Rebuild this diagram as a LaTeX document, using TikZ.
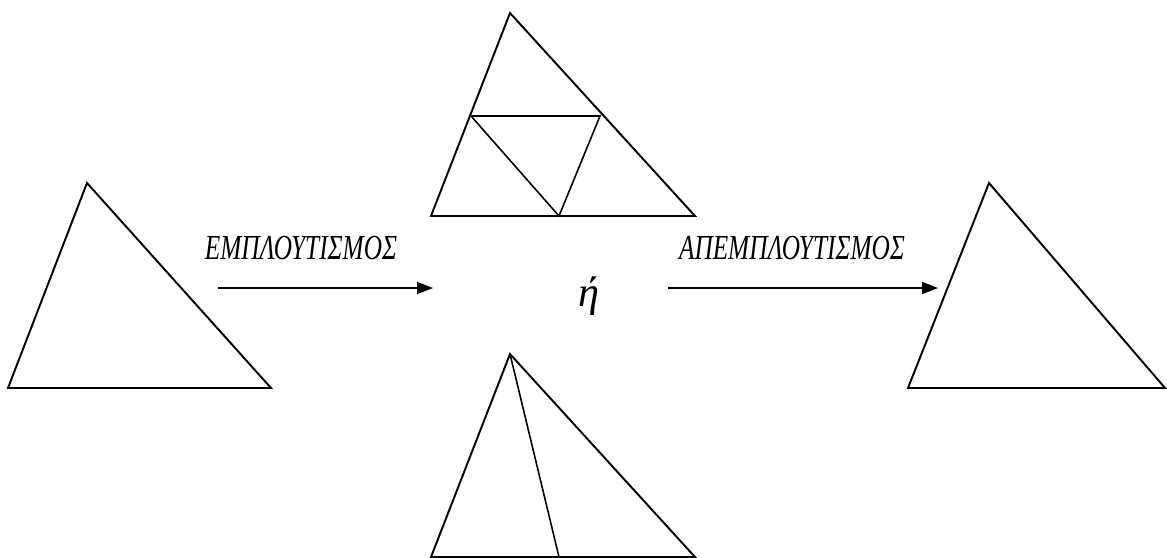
\documentclass[tikz,border=0pt]{standalone}
\usepackage{fontspec}
\setmainfont{Liberation Serif}
\newfontfamily\grk[Script=Greek]{Liberation Serif}
\usepackage{graphicx}
\usetikzlibrary{arrows.meta, positioning}

\begin{document}
\begin{tikzpicture}[x=0.02cm, y=-0.02cm,
    tri/.style={line width=1.1pt, line join=miter},
    cut/.style={line width=0.9pt},
    arrow/.style={-{Triangle[length=3.2mm, width=2.4mm]}, line width=0.9pt},
    lbl/.style={font=\grk\fontsize{20}{20}\selectfont\itshape, inner sep=0pt},
]
\useasboundingbox (0,0) rectangle (1167,558);

% left triangle
\coordinate (la) at (87,183);
\coordinate (lb) at (8,388);
\coordinate (lc) at (271,388);
\draw[tri] (la) -- (lb) -- (lc) -- cycle;

% top middle triangle with inner triangle
\coordinate (ta) at (510,13);
\coordinate (tb) at (431,216);
\coordinate (tc) at (695,216);
\coordinate (tp) at (471,116);
\coordinate (tq) at (600,116);
\coordinate (tr) at (559,216);
\draw[tri] (ta) -- (tb) -- (tc) -- cycle;
\draw[cut] (tp) -- (tq) -- (tr) -- cycle;

% bottom middle triangle with one cut
\coordinate (ba) at (510,354);
\coordinate (bb) at (431,557);
\coordinate (bc) at (695,557);
\coordinate (bm) at (559,557);
\draw[tri] (ba) -- (bb) -- (bc) -- cycle;
\draw[cut] (ba) -- (bm);

% right triangle
\coordinate (ra) at (989,183);
\coordinate (rb) at (908,388);
\coordinate (rc) at (1165,388);
\draw[tri] (ra) -- (rb) -- (rc) -- cycle;

% arrows and labels
\coordinate (a1) at (218,288);
\coordinate (a2) at (433,288);
\coordinate (a3) at (668,288);
\coordinate (a4) at (938,288);
\draw[arrow] (a1) -- (a2);
\draw[arrow] (a3) -- (a4);

\node[lbl] (emp) at (301,248) {\scalebox{0.72}[1]{ΕΜΠΛΟΥΤΙΣΜΟΣ}};
\node[lbl] (apemp) at (792,248) {\scalebox{0.72}[1]{ΑΠΕΜΠΛΟΥΤΙΣΜΟΣ}};
\node[font=\grk\fontsize{24}{24}\selectfont\itshape, inner sep=0pt] (or) at (589,296) {ή};
\end{tikzpicture}
\end{document}
